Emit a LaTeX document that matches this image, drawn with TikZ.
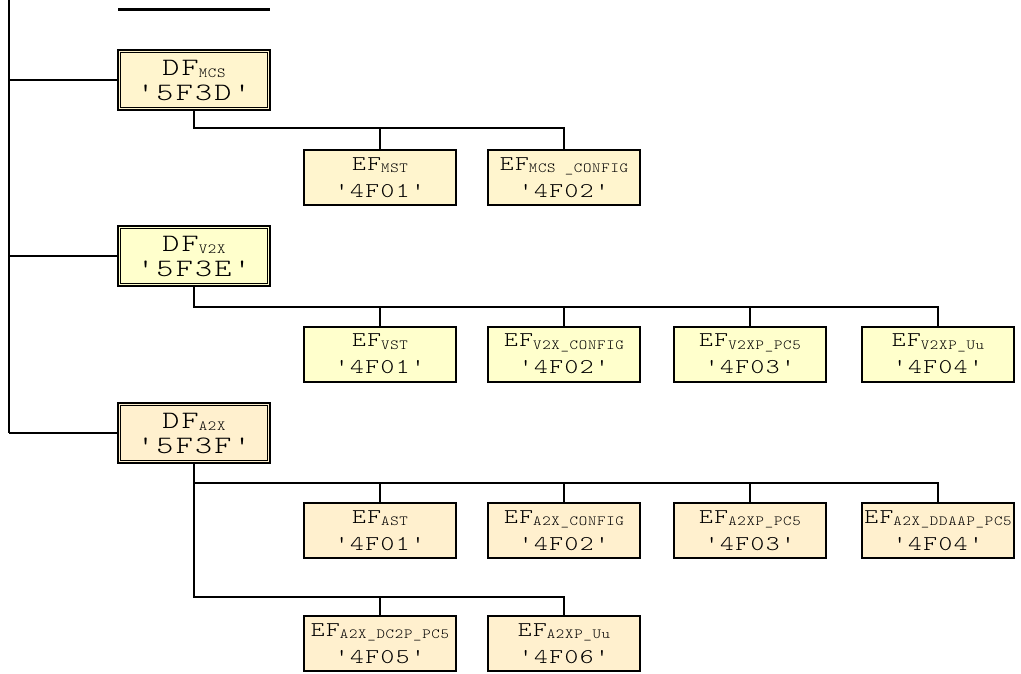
\documentclass[tikz,border=0pt]{standalone}
\usepackage{fontspec}
\usepackage{xcolor}
\definecolor{mcsfill}{RGB}{255,245,206}
\definecolor{v2xfill}{RGB}{255,255,204}
\definecolor{a2xfill}{RGB}{255,240,206}
\usetikzlibrary{positioning}
\newfontfamily\dfmono[FakeStretch=1.3,LetterSpace=9,Ligatures=TeXOff]{lmmonolt10-regular.otf}
\newfontfamily\efmono[FakeStretch=1.25,LetterSpace=7,Ligatures=TeXOff]{lmmonolt10-regular.otf}
\newfontfamily\submono[FakeStretch=1.15,LetterSpace=5,Ligatures=TeXOff]{lmmonolt10-regular.otf}
\newcommand\dffont{\dfmono\fontsize{25}{25}\selectfont}
\newcommand\effont{\efmono\fontsize{21}{27}\selectfont}
\newcommand\fsub[1]{\raisebox{-2.5pt}{\submono\fontsize{14}{14}\selectfont#1}}
\tikzset{
  dfbox/.style={draw, line width=2.2pt, fill=#1, font=\dffont, align=center,
                minimum width=152pt, minimum height=60pt, inner sep=1pt,
                path picture={\draw[line width=0.8pt]
                  ([shift={(2.8pt,2.8pt)}]path picture bounding box.south west) rectangle
                  ([shift={(-2.8pt,-2.8pt)}]path picture bounding box.north east);}},
  efbox/.style={draw, line width=2pt, fill=#1, font=\effont, align=center,
                minimum width=152pt, minimum height=55pt, inner sep=1pt},
  wire/.style={line width=1.3pt},
}
\begin{document}
\begin{tikzpicture}[x=1pt, y=1pt]
\useasboundingbox (0,0) rectangle (1021,-673);
% Top bar
\coordinate (barl) at (118,-9);
\coordinate (barr) at (270,-9);
\draw[line width=3pt] (barl) -- (barr);
% Dedicated files
\node[dfbox=mcsfill] (dfmcs) at (194,-80) {DF\fsub{MCS}\\'5F3D'};
\node[dfbox=v2xfill] (dfv2x) at (194,-256) {DF\fsub{V2X}\\'5F3E'};
\node[dfbox=a2xfill] (dfa2x) at (194,-433) {DF\fsub{A2X}\\'5F3F'};
% Elementary files
\foreach \nm/\x/\y/\fc/\sub/\fid in {
  efmst/380/-177.5/mcsfill/MST/4F01,
  efmcscfg/564/-177.5/mcsfill/MCS \_CONFIG/4F02,
  efvst/380/-354/v2xfill/VST/4F01,
  efvcfg/564/-354/v2xfill/V2X\_CONFIG/4F02,
  efvpc5/750/-354/v2xfill/V2XP\_PC5/4F03,
  efvuu/938/-354/v2xfill/V2XP\_Uu/4F04,
  efast/380/-530.5/a2xfill/AST/4F01,
  efacfg/564/-530.5/a2xfill/A2X\_CONFIG/4F02,
  efapc5/750/-530.5/a2xfill/A2XP\_PC5/4F03,
  efaddaap/938/-530.5/a2xfill/A2X\_DDAAP\_PC5/4F04,
  efadc2p/380/-643.5/a2xfill/A2X\_DC2P\_PC5/4F05,
  efauu/564/-643.5/a2xfill/A2XP\_Uu/4F06}{
  \node[efbox=\fc] (\nm) at (\x,\y) {EF\fsub{\sub}\\'\fid'};
}
% Left trunk
\coordinate (trunktop) at (9,0);
\coordinate (trunkend) at (9,-433);
\draw[wire] (trunktop) -- (trunkend);
\foreach \df in {dfmcs,dfv2x,dfa2x}
  \draw[wire] (trunktop |- \df.west) -- (\df.west);
% Branches under DF_MCS
\coordinate (busmcs) at (194,-128);
\draw[wire] (dfmcs.south) -- (busmcs) -| (efmcscfg.north);
\draw[wire] (busmcs) -| (efmst.north);
% Branches under DF_V2X
\coordinate (busv) at (194,-307);
\draw[wire] (dfv2x.south) -- (busv) -| (efvuu.north);
\foreach \ef in {efvst,efvcfg,efvpc5}
  \draw[wire] (busv) -| (\ef.north);
% Branches under DF_A2X
\coordinate (busa) at (194,-483);
\coordinate (busb) at (194,-597);
\draw[wire] (dfa2x.south) -- (busb) -| (efauu.north);
\draw[wire] (busb) -| (efadc2p.north);
\draw[wire] (busa) -| (efaddaap.north);
\foreach \ef in {efast,efacfg,efapc5}
  \draw[wire] (busa) -| (\ef.north);
\end{tikzpicture}
\end{document}
